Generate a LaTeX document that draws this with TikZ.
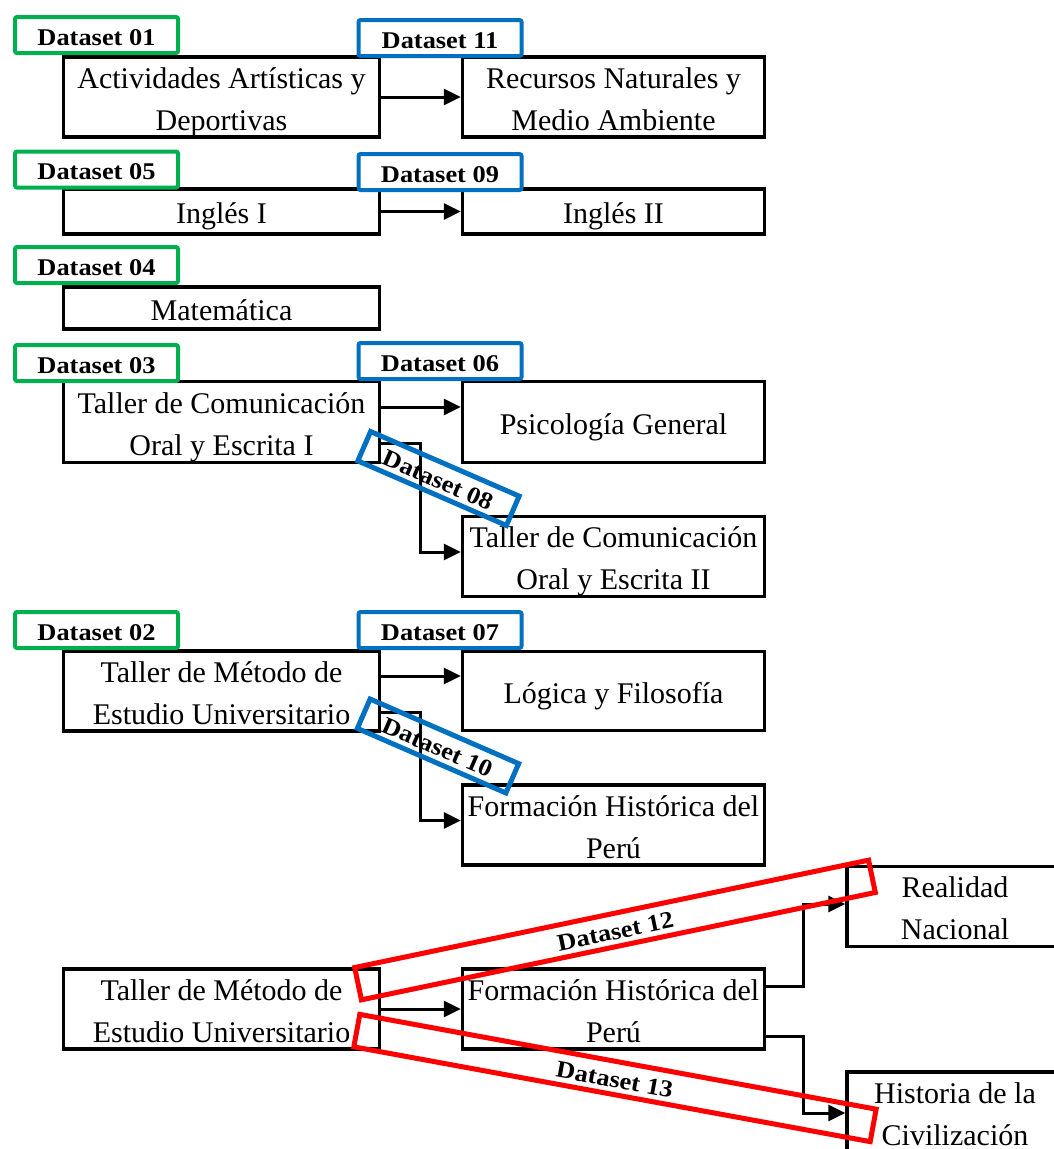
\documentclass[tikz,border=0pt]{standalone}
\usepackage{fontspec}
\setmainfont{Liberation Serif}
\newfontfamily\tagfont{Liberation Serif}[FakeStretch=1.1]
\usetikzlibrary{arrows.meta}
\definecolor{dsgreen}{HTML}{00B050}
\definecolor{dsblue}{HTML}{0070C0}
\definecolor{dsred}{HTML}{FF0000}
% strut that gives every course text line the same height and depth
\newcommand\tlift{\rule[-7pt]{0pt}{38pt}}
\begin{document}
\begin{tikzpicture}[x=1pt,y=-1pt,
  course/.style={draw, line width=3.5pt, inner sep=0pt, align=center,
    font=\fontsize{30}{42}\selectfont, minimum height=79pt},
  lcol/.style={course, minimum width=316pt},
  rcol/.style={course, minimum width=302pt},
  tag/.style={draw, line width=4pt, rounded corners=2pt, fill=white, inner sep=0pt,
    minimum width=163pt, minimum height=36pt, text height=20pt, text depth=0pt,
    font=\tagfont\bfseries\fontsize{24}{28}\selectfont},
  tagG/.style={tag, draw=dsgreen},
  tagB/.style={tag, draw=dsblue},
  slant/.style={draw=dsblue, line width=5pt, inner sep=0pt, minimum width=162pt,
    minimum height=32pt, rotate=-23.5, text height=19pt, text depth=0pt,
    font=\tagfont\bfseries\fontsize{24}{28}\selectfont},
  band/.style={draw=dsred, line width=5pt, inner sep=0pt, minimum width=525pt,
    minimum height=33pt, text height=19pt, text depth=0pt,
    font=\tagfont\bfseries\fontsize{24}{28}\selectfont},
  link/.style={line width=3pt, -{Triangle[length=17pt,width=16pt]}}]

\clip (0,0) rectangle (1054,1149);

% course boxes
\node[lcol] (aad) at (221.5,97) {\tlift Actividades Artísticas y\\\tlift Deportivas};
\node[rcol] (rnm) at (613.5,97) {\tlift Recursos Naturales y\\\tlift Medio Ambiente};
\node[lcol, minimum height=45pt] (ing1) at (221.5,211.5) {\tlift Inglés I};
\node[rcol, minimum height=45pt] (ing2) at (613.5,211.5) {\tlift Inglés II};
\node[lcol, minimum height=42pt] (mat) at (221.5,308) {\tlift Matemática};
\node[lcol, minimum height=81pt] (tc1) at (221.5,422) {\tlift Taller de Comunicación\\\tlift Oral y Escrita I};
\node[rcol, minimum height=81pt] (psi) at (613.5,422) {\tlift Psicología General};
\node[rcol, minimum height=80pt] (tc2) at (613.5,556.5) {\tlift Taller de Comunicación\\\tlift Oral y Escrita II};
\node[lcol] (tm1) at (221.5,691) {\tlift Taller de Método de\\\tlift Estudio Universitario};
\node[rcol] (log) at (613.5,691) {\tlift Lógica y Filosofía};
\node[rcol] (fhp1) at (613.5,825) {\tlift Formación Histórica del\\\tlift Perú};
\node[lcol] (tm2) at (221.5,1009) {\tlift Taller de Método de\\\tlift Estudio Universitario};
\node[rcol] (fhp2) at (613.5,1009) {\tlift Formación Histórica del\\\tlift Perú};
\node[course, minimum width=216pt, minimum height=78pt] (rn) at (955,906.5) {\tlift Realidad\\\tlift Nacional};
\node[course, minimum width=216pt, minimum height=80pt] (hc) at (955,1112) {\tlift Historia de la\\\tlift Civilización};

% prerequisite links
\draw[link] (aad.east) -- (rnm.west);
\draw[link] (ing1.east) -- (ing2.west);
\draw[link] ([yshift=15pt]tc1.east) -- ([yshift=15pt]psi.west);
\draw[link] ([yshift=-21pt]tc1.east) -- ++(39,0) |- ([yshift=4.5pt]tc2.west);
\draw[link] ([yshift=15pt]tm1.east) -- ([yshift=15pt]log.west);
\draw[link] ([yshift=-21pt]tm1.east) -- ++(39,0) |- ([yshift=4.5pt]fhp1.west);
\draw[link] (tm2.east) -- (fhp2.west);
\draw[link] ([yshift=23pt]fhp2.east) -- ++(37,0) |- ([yshift=2.5pt]rn.west);
\draw[link] ([yshift=-27pt]fhp2.east) -- ++(37,0) |- ([yshift=-1pt]hc.west);

% dataset tags
\node[tagG] (d01) at (96.5,35) {Dataset 01};
\node[tagB] (d11) at (440,38) {Dataset 11};
\node[tagG] (d05) at (96.5,169.5) {Dataset 05};
\node[tagB] (d09) at (440,172) {Dataset 09};
\node[tagG] (d04) at (96.5,265) {Dataset 04};
\node[tagG] (d03) at (96.5,363) {Dataset 03};
\node[tagB] (d06) at (440,361) {Dataset 06};
\node[tagG] (d02) at (96.5,630) {Dataset 02};
\node[tagB] (d07) at (440,630) {Dataset 07};

% slanted tags over the branching links
\node[slant] (d08) at (438.5,478.5) {Dataset 08};
\node[slant] (d10) at (438,746) {Dataset 10};
\node[band, rotate=11.8] (d12) at (615,930) {Dataset 12};
\node[band, rotate=-10.4] (d13) at (615,1078) {Dataset 13};

\end{tikzpicture}
\end{document}
